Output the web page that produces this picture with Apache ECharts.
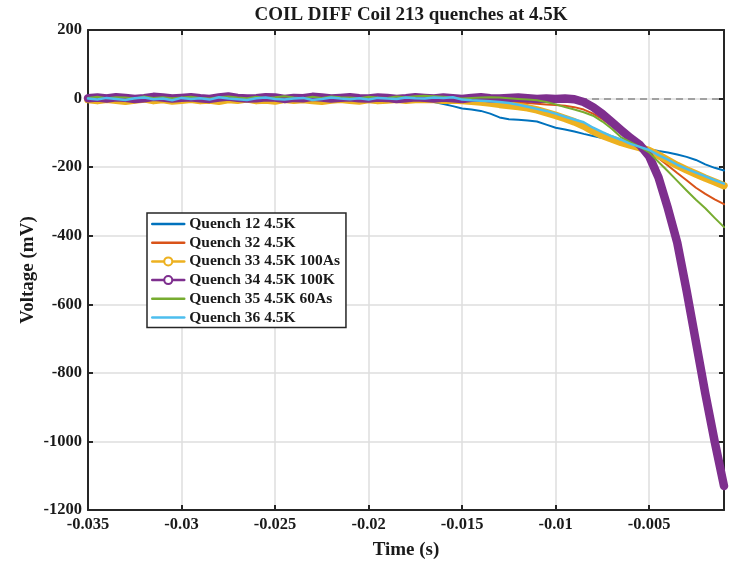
<!DOCTYPE html>
<html>
<head>
<meta charset="utf-8">
<script src="https://cdn.jsdelivr.net/npm/echarts@6/dist/echarts.min.js"></script>
<style>
  html, body { margin: 0; padding: 0; background: #fff; }
  #chart { width: 732px; height: 561px; }
</style>
</head>
<body>
<div id="chart"></div>
<script>
// Sample times (s), 0.5 ms apart
const time = [
  -0.035, -0.0345, -0.034, -0.0335, -0.033, -0.0325, -0.032, -0.0315, -0.031, -0.0305,
  -0.030, -0.0295, -0.029, -0.0285, -0.028, -0.0275, -0.027, -0.0265, -0.026, -0.0255,
  -0.025, -0.0245, -0.024, -0.0235, -0.023, -0.0225, -0.022, -0.0215, -0.021, -0.0205,
  -0.020, -0.0195, -0.019, -0.0185, -0.018, -0.0175, -0.017, -0.0165, -0.016, -0.0155,
  -0.015, -0.0145, -0.014, -0.0135, -0.013, -0.0125, -0.012, -0.0115, -0.011, -0.0105,
  -0.010, -0.0095, -0.009, -0.0085, -0.008, -0.0075, -0.007, -0.0065, -0.006, -0.0055,
  -0.005, -0.0045, -0.004, -0.0035, -0.003, -0.0025, -0.002, -0.0015, -0.001
];

// Coil differential voltage (mV) for each quench
const q12 = [
  -2, -4, -6, -3, -5, -7, -4, -2, -5, -6, -3, -4, -7, -5, -2, -4, -6, -5, -3, -6,
  -4, -5, -7, -3, -4, -6, -5, -2, -5, -6, -4, -3, -6, -5, -4, -6,
  -8, -10, -16, -22, -29, -32, -36, -44, -55, -60, -62, -64, -67, -76, -85, -90, -96, -103, -109, -115,
  -120, -125, -131, -140, -148, -153, -157, -163, -170, -179, -192, -202, -210
];
const q32 = [
  0, -3, -1, 2, -2, -4, -1, 1, -3, -2, 0, -4, -2, 1, -1, -3, -2, 0, -4, -1,
  2, -2, -3, 0, -1, -4, -2, 1, -3, -2, 0, -1, -3, -2, -4, -2,
  -3, -5, -4, -6, -5, -7, -8, -9, -10, -11, -12, -13, -15, -17, -19, -21, -25, -32, -44, -60,
  -80, -100, -118, -136, -155, -174, -195, -217, -238, -260, -278, -294, -308
];
const q33 = [
  -3, -6, -2, -5, -8, -4, -1, -6, -3, -7, -5, -2, -6, -4, -8, -3, -5, -1, -6, -4,
  -7, -2, -5, -3, -6, -8, -4, -2, -5, -7, -3, -6, -4, -2, -5, -3,
  -2, -3, -5, -4, -6, -8, -10, -13, -17, -20, -23, -27, -33, -41, -49, -58, -68, -80, -95, -108,
  -118, -128, -136, -143, -152, -165, -180, -195, -208, -220, -232, -243, -254
];
const q34 = [
  1, 3, 0, 4, 2, -1, 1, 5, 3, 0, 2, 4, 1, -1, 3, 6, 2, 0, 1, 4,
  3, -1, 2, 1, 5, 3, 0, 2, 4, 1, 0, 3, 2, -1, 1, 4, 2, 0, 3, 1,
  -1, 2, 4, 1, 0, 2, 3, 1, -1, 0, -1,
  0, -2, -10, -25, -45, -68, -92, -115, -135, -168, -230, -320, -420, -560, -710, -860, -1000, -1130
];
const q35 = [
  2, 5, 1, 4, 3, 0, 6, 2, 4, 1, 3, 5, 2, 0, 4, 6, 3, 1, 5, 2,
  4, 7, 3, 1, 5, 2, 6, 4, 3, 1, 5, 3, 2, 6, 4, 7,
  8, 7, 5, 3, 0, 2, 3, 4, 3, 1, -1, -3, -5, -10, -17, -25, -32, -40, -50, -67,
  -88, -113, -127, -141, -157, -185, -212, -240, -268, -295, -320, -348, -375
];
const q36 = [
  0, -3, 2, -1, -4, 1, 3, -2, 0, -5, 2, -1, 1, -3, 4, 0, -2, -4, 1, 3,
  -1, -3, 0, 2, -4, -1, 3, 0, -2, 1, -3, 2, 0, -1, 3, 1,
  0, 3, 2, 4, -3, -5, -6, -8, -10, -13, -18, -24, -30, -36, -44, -53, -61, -69, -85, -98,
  -110, -120, -132, -141, -150, -165, -178, -193, -205, -216, -227, -238, -248
];

const seriesNames = [
  'Quench 12 4.5K', 'Quench 32 4.5K', 'Quench 33 4.5K 100As',
  'Quench 34 4.5K 100K', 'Quench 35 4.5K 60As', 'Quench 36 4.5K'
];
const seriesValues = [q12, q32, q33, q34, q35, q36];
const seriesColors = ['#0072BD', '#D95319', '#EDB120', '#7E2F8E', '#77AC30', '#4DBEEE'];
const withMarkers = [false, false, true, true, false, false];
const lineWidths = [2, 2, 7.5, 8.5, 2, 2.5];

const xTicks = { min: -0.035, max: -0.001, step: 0.005 };
const yTicks = { min: -1200, max: 200, step: 200 };

const FONT = '"Liberation Serif", "Times New Roman", serif';
const INK = '#1a1a1a';
const FRAME = '#262626';

const pairs = vals => vals.map((v, i) => [time[i], v]);

const series = seriesNames.map((name, i) => {
  const s = {
    name,
    type: 'line',
    data: pairs(seriesValues[i]),
    symbol: withMarkers[i] ? 'emptyCircle' : 'none',
    showSymbol: false,
    color: seriesColors[i],
    lineStyle: { width: lineWidths[i], color: seriesColors[i], cap: 'round', join: 'round' },
    emphasis: { disabled: true },
    silent: true,
    z: 2 + i
  };
  if (i === 0) {
    // dashed zero-voltage reference
    s.markLine = {
      silent: true,
      symbol: 'none',
      label: { show: false },
      lineStyle: { type: [7, 5], color: '#8a8a8a', width: 1.5 },
      data: [{ yAxis: 0 }],
      z: 1
    };
  }
  return s;
});

const tickFmt = v => String(parseFloat(v.toFixed(4)));

const frameAxis = {
  axisLine: { show: true, onZero: false, lineStyle: { color: FRAME, width: 2 } },
  axisTick: { show: true, inside: true, length: 5, lineStyle: { color: FRAME, width: 2 } }
};

const chart = echarts.init(document.getElementById('chart'), null, { renderer: 'canvas' });
chart.setOption({
  animation: false,
  backgroundColor: '#ffffff',
  title: {
    text: 'COIL DIFF Coil 213 quenches at 4.5K',
    left: 406,
    top: 1,
    textAlign: 'center',
    textStyle: { fontFamily: FONT, fontWeight: 'bold', fontSize: 19, color: INK }
  },
  grid: { left: 88, right: 8, top: 30, bottom: 51, containLabel: false, outerBoundsMode: 'none' },
  legend: {
    orient: 'vertical',
    left: 147,
    top: 213,
    padding: [3, 6, 2, 4],
    itemWidth: 32,
    itemHeight: 10,
    itemGap: 2.7,
    borderColor: FRAME,
    borderWidth: 1.5,
    backgroundColor: '#ffffff',
    selectedMode: false,
    lineStyle: { width: 2.5 },
    textStyle: { fontFamily: FONT, fontWeight: 'bold', fontSize: 15.5, lineHeight: 16, color: INK },
    data: seriesNames.map((name, i) => withMarkers[i]
      ? { name }
      : { name, itemStyle: { opacity: 0 } })
  },
  xAxis: [{
    type: 'value',
    min: xTicks.min, max: xTicks.max, interval: xTicks.step,
    name: 'Time (s)',
    nameLocation: 'middle',
    nameGap: 31,
    nameMoveOverlap: false,
    nameTextStyle: { fontFamily: FONT, fontWeight: 'bold', fontSize: 19, color: INK },
    ...frameAxis,
    axisLabel: { fontFamily: FONT, fontWeight: 'bold', fontSize: 16.5, color: INK, margin: 6,
                 showMaxLabel: false, formatter: tickFmt },
    splitLine: { show: true, lineStyle: { color: '#dedede', width: 1.5 } }
  }, {
    type: 'value', position: 'top',
    min: xTicks.min, max: xTicks.max, interval: xTicks.step,
    ...frameAxis,
    axisLabel: { show: false },
    splitLine: { show: false }
  }],
  yAxis: [{
    type: 'value',
    min: yTicks.min, max: yTicks.max, interval: yTicks.step,
    name: 'Voltage (mV)',
    nameLocation: 'middle',
    nameGap: 50,
    nameMoveOverlap: false,
    nameTextStyle: { fontFamily: FONT, fontWeight: 'bold', fontSize: 19, color: INK },
    ...frameAxis,
    axisLabel: { fontFamily: FONT, fontWeight: 'bold', fontSize: 16.5, color: INK, margin: 6,
                 formatter: v => String(v) },
    splitLine: { show: true, lineStyle: { color: '#dedede', width: 1.5 } }
  }, {
    type: 'value', position: 'right',
    min: yTicks.min, max: yTicks.max, interval: yTicks.step,
    ...frameAxis,
    axisLabel: { show: false },
    splitLine: { show: false }
  }],
  series
});
</script>
</body>
</html>
